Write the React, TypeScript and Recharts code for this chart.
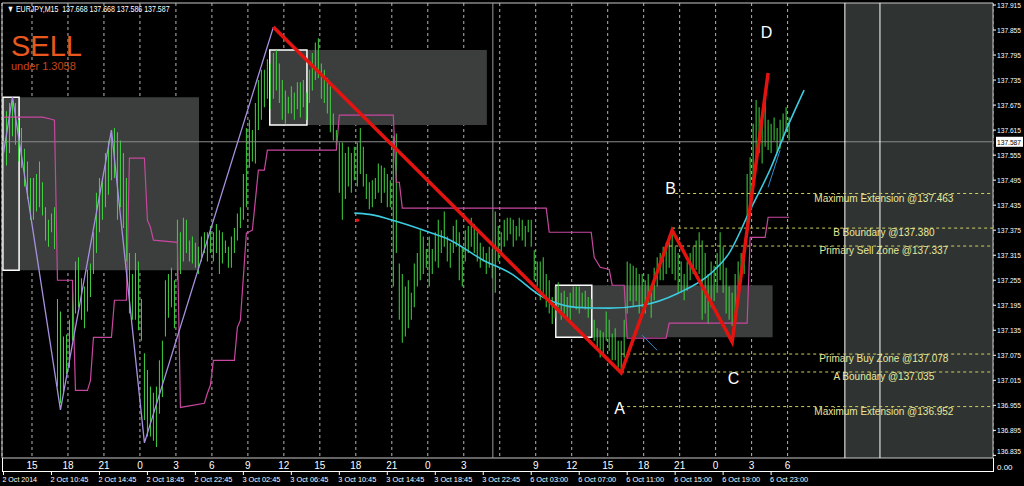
import React from 'react';
import {
  ComposedChart, Bar, Line, XAxis, YAxis, CartesianGrid,
  ReferenceArea, ReferenceLine, ReferenceDot,
} from 'recharts';

// EURJPY M15 bars (one per 15 min)
const highs = [
  137.585, 137.66, 137.68, 137.694, 137.68, 137.64, 137.62, 137.57, 137.54, 137.5,
  137.5, 137.51, 137.54, 137.49, 137.43, 137.4, 137.415, 137.43, 137.21, 137.18,
  137.12, 137.125, 137.16, 137.24, 137.3, 137.31, 137.26, 137.24, 137.28, 137.295,
  137.37, 137.465, 137.5, 137.495, 137.56, 137.59, 137.615, 137.62, 137.61, 137.59,
  137.56, 137.5, 137.32, 137.27, 137.32, 137.3, 137.21, 137.08, 137.04, 137.0,
  136.985, 137.0, 137.063, 137.11, 137.255, 137.27, 137.285, 137.255, 137.4, 137.37,
  137.405, 137.4, 137.35, 137.36, 137.345, 137.335, 137.36, 137.37, 137.37, 137.385,
  137.37, 137.39, 137.375, 137.37, 137.35, 137.335, 137.36, 137.38, 137.415, 137.43,
  137.51, 137.62, 137.64, 137.615, 137.68, 137.735, 137.76, 137.76, 137.785, 137.775,
  137.8, 137.807, 137.775, 137.735, 137.71, 137.695, 137.72, 137.705, 137.73, 137.73,
  137.735, 137.705, 137.76, 137.8, 137.825, 137.835, 137.775, 137.76, 137.74, 137.72,
  137.655, 137.615, 137.585, 137.585, 137.56, 137.575, 137.56, 137.575, 137.585, 137.62,
  137.575, 137.51, 137.49, 137.495, 137.5, 137.535, 137.53, 137.525, 137.51, 137.495,
  137.6, 137.607, 137.295, 137.27, 137.24, 137.255, 137.225, 137.295, 137.32, 137.375,
  137.36, 137.33, 137.36, 137.33, 137.37, 137.4, 137.375, 137.42, 137.36, 137.345,
  137.385, 137.4, 137.37, 137.335, 137.375, 137.385, 137.405, 137.39, 137.37, 137.345,
  137.335, 137.32, 137.335, 137.33, 137.42, 137.385, 137.37, 137.4, 137.405, 137.405,
  137.4, 137.385, 137.405, 137.4, 137.385, 137.4, 137.4, 137.327, 137.3, 137.3,
  137.31, 137.27, 137.255, 137.215, 137.24, 137.25, 137.225, 137.23, 137.215, 137.225,
  137.24, 137.24, 137.24, 137.225, 137.23, 137.215, 137.21, 137.16, 137.14, 137.135,
  137.13, 137.18, 137.16, 137.127, 137.14, 137.11, 137.11, 137.16, 137.3, 137.295,
  137.29, 137.285, 137.27, 137.27, 137.255, 137.27, 137.24, 137.285, 137.31, 137.32,
  137.335, 137.345, 137.36, 137.372, 137.335, 137.32, 137.3, 137.27, 137.3, 137.32,
  137.335, 137.35, 137.37, 137.35, 137.32, 137.27, 137.3, 137.29, 137.32, 137.37,
  137.335, 137.285, 137.24, 137.225, 137.27, 137.3, 137.32, 137.335, 137.51, 137.55,
  137.63, 137.687, 137.67, 137.645, 137.687, 137.64, 137.63, 137.645, 137.62, 137.64,
  137.655, 137.67, 137.645,
];
const lows = [
  137.47, 137.53, 137.56, 137.6, 137.58, 137.54, 137.525, 137.48, 137.45, 137.4,
  137.4, 137.42, 137.43, 137.41, 137.35, 137.335, 137.37, 137.33, 137.0, 136.96,
  136.985, 137.03, 137.045, 137.11, 137.175, 137.19, 137.16, 137.14, 137.18, 137.215,
  137.27, 137.32, 137.37, 137.4, 137.43, 137.46, 137.495, 137.5, 137.4, 137.43,
  137.38, 137.3, 137.175, 137.16, 137.16, 137.135, 137.11, 136.92, 136.88, 136.88,
  136.87, 136.855, 136.935, 136.975, 137.12, 137.165, 137.19, 137.14, 137.255, 137.27,
  137.3, 137.32, 137.3, 137.295, 137.285, 137.27, 137.3, 137.32, 137.3, 137.32,
  137.3, 137.32, 137.27, 137.295, 137.32, 137.285, 137.285, 137.32, 137.35, 137.38,
  137.4, 137.43, 137.525, 137.54, 137.535, 137.615, 137.64, 137.67, 137.69, 137.665,
  137.69, 137.71, 137.68, 137.64, 137.63, 137.655, 137.655, 137.64, 137.665, 137.645,
  137.67, 137.64, 137.68, 137.71, 137.735, 137.74, 137.69, 137.68, 137.655, 137.61,
  137.59, 137.575, 137.465, 137.4, 137.45, 137.48, 137.465, 137.495, 137.48, 137.51,
  137.48, 137.45, 137.425, 137.43, 137.45, 137.465, 137.44, 137.465, 137.43, 137.43,
  137.24, 137.32, 137.16, 137.105, 137.12, 137.14, 137.16, 137.19, 137.24, 137.255,
  137.27, 137.285, 137.24, 137.27, 137.3, 137.285, 137.32, 137.335, 137.3, 137.285,
  137.32, 137.335, 137.255, 137.24, 137.3, 137.32, 137.335, 137.32, 137.3, 137.285,
  137.3, 137.27, 137.285, 137.26, 137.225, 137.3, 137.32, 137.335, 137.35, 137.365,
  137.335, 137.35, 137.36, 137.35, 137.335, 137.37, 137.335, 137.255, 137.24, 137.207,
  137.225, 137.19, 137.175, 137.15, 137.165, 137.19, 137.16, 137.175, 137.165, 137.15,
  137.19, 137.185, 137.175, 137.19, 137.185, 137.165, 137.185, 137.11, 137.095, 137.07,
  137.075, 137.11, 137.085, 137.063, 137.063, 137.045, 137.035, 137.07, 137.175, 137.205,
  137.19, 137.205, 137.175, 137.19, 137.175, 137.2, 137.165, 137.207, 137.24, 137.255,
  137.255, 137.27, 137.285, 137.27, 137.255, 137.225, 137.225, 137.207, 137.23, 137.255,
  137.27, 137.28, 137.27, 137.16, 137.175, 137.15, 137.19, 137.205, 137.225, 137.255,
  137.225, 137.175, 137.16, 137.145, 137.175, 137.225, 137.255, 137.27, 137.385, 137.43,
  137.495, 137.545, 137.56, 137.535, 137.575, 137.567, 137.56, 137.59, 137.56, 137.57,
  137.59, 137.61, 137.59,
];

// zigzag / pattern points as [bar index, price]
const purpleWave: [number, number][] = [[0, 137.56], [3, 137.694], [19, 136.944], [36, 137.615], [47, 136.865], [90, 137.862]];
const abcdLegs: [number, number][] = [[90, 137.862], [206, 137.033], [223, 137.375], [243, 137.107], [255, 137.752]];
const stepLevels: [number, number][] = [
  [0, 137.646], [13, 137.646], [16, 137.641], [17, 137.639], [18, 137.255], [23, 137.255], [24, 136.991],
  [28, 136.991], [29, 137.015], [30, 137.118], [36, 137.118], [37, 137.207], [41, 137.207], [42, 137.548],
  [47, 137.548], [48, 137.399], [49, 137.382], [50, 137.351], [58, 137.346], [59, 136.95], [67, 136.96],
  [68, 136.984], [69, 137.003], [70, 137.063], [77, 137.063], [78, 137.142], [79, 137.159], [81, 137.368],
  [83, 137.375], [85, 137.519], [87, 137.519], [88, 137.567], [111, 137.567], [112, 137.651], [130, 137.651],
  [131, 137.49], [132, 137.49], [133, 137.428], [181, 137.428], [182, 137.37], [196, 137.37], [197, 137.31],
  [199, 137.286], [202, 137.281], [203, 137.243], [207, 137.243], [208, 137.116], [221, 137.116],
  [222, 137.152], [248, 137.152], [249, 137.358], [254, 137.358], [255, 137.406], [262, 137.406],
];
const trendCurve: [number, number][] = [
  [117, 137.416], [122, 137.413], [132, 137.394], [142, 137.37], [149, 137.351], [160, 137.303],
  [169, 137.272], [180, 137.214], [191, 137.19], [202, 137.188], [213, 137.195], [225, 137.224],
  [236, 137.272], [242, 137.32], [249, 137.423], [256, 137.526], [261, 137.615], [267, 137.711],
];
const fanTickA: [number, number][] = [[213, 137.123], [218, 137.087]];
const fanTickB: [number, number][] = [[255, 137.478], [259, 137.567]];
const markDot: [number, number][] = [[118, 137.399]];

// rectangles: bar index from/to, price low/high
const zones = [
  { from: -0.2, to: 65.2, low: 137.279, high: 137.694 },
  { from: 88.8, to: 161.2, low: 137.627, high: 137.807 },
  { from: 184.5, to: 256.5, low: 137.118, high: 137.243 },
];
const boxes = [
  { from: -0.2, to: 5.2, low: 137.279, high: 137.694 },
  { from: 88.8, to: 101.2, low: 137.627, high: 137.807 },
  { from: 184.2, to: 196.2, low: 137.118, high: 137.243 },
];

const levels = [
  { from: 224, price: 137.463, label: 'Maximum Extension @137.463' },
  { from: 223, price: 137.38, label: 'B Boundary @137.380' },
  { from: 222, price: 137.337, label: 'Primary Sell Zone @137.337' },
  { from: 206, price: 137.078, label: 'Primary Buy Zone @137.078' },
  { from: 206, price: 137.035, label: 'A Boundary @137.035' },
  { from: 206, price: 136.952, label: 'Maximum Extension @136.952' },
];
const pointLabels = [
  { name: 'D', at: 254.5, price: 137.85 },
  { name: 'B', at: 222.5, price: 137.476 },
  { name: 'A', at: 205.5, price: 136.948 },
  { name: 'C', at: 243.5, price: 137.02 },
];

const lastPrice = 137.587;
const priceTicks = [
  136.835, 136.895, 136.955, 137.015, 137.075, 137.135, 137.195, 137.255, 137.315, 137.375,
  137.435, 137.495, 137.555, 137.615, 137.675, 137.735, 137.795, 137.855, 137.915,
];
const hourTicks = [9.5, 21.5, 33.5, 45.5, 57.5, 69.5, 81.5, 93.5, 105.5, 117.5, 129.5, 141.5, 153.5, 165.5, 177.5, 189.5, 201.5, 213.5, 225.5, 237.5, 249.5, 261.5];
const hourLabels = ['15', '18', '21', '0', '3', '6', '9', '12', '15', '18', '21', '0', '3', '', '9', '12', '15', '18', '21', '0', '3', '6'];
const dateTicks = [0, 16, 32, 48, 64, 80, 96, 112, 128, 144, 160, 176, 192, 208, 224, 240, 256];
const dateLabels = [
  '2 Oct 2014', '2 Oct 10:45', '2 Oct 14:45', '2 Oct 18:45', '2 Oct 22:45', '3 Oct 02:45',
  '3 Oct 06:45', '3 Oct 10:45', '3 Oct 14:45', '3 Oct 18:45', '3 Oct 22:45', '6 Oct 03:00',
  '6 Oct 07:00', '6 Oct 11:00', '6 Oct 15:00', '6 Oct 19:00', '6 Oct 23:00',
];

const X_DOMAIN: [number, number] = [-0.5, 330];
const Y_DOMAIN: [number, number] = [136.8287, 137.9198];
const SANS = "'Liberation Sans', Arial, sans-serif";

const rows: any[] = [];
for (let i = 0; i <= 267; i++) {
  rows.push({ i, range: i < highs.length ? [lows[i], highs[i]] : undefined });
}
const put = (pts: [number, number][], key: string) => pts.forEach(([i, v]) => { rows[i][key] = v; });
put(purpleWave, 'wave');
put(abcdLegs, 'abcd');
put(stepLevels, 'step');
put(trendCurve, 'curve');
put(fanTickA, 'fanA');
put(fanTickB, 'fanB');
put(markDot, 'mark');

// MT4 uses a narrow pixel font: squeeze the text to its width
function PriceTick({ x, y, payload }: any) {
  const v = payload.value;
  if (v === lastPrice) {
    return (
      <g>
        <rect x={x - 1} y={y - 5} width={27} height={10} fill="#fff" />
        <text x={x} y={y + 3} fontSize={8} fill="#000" fontFamily={SANS} textLength={24} lengthAdjust="spacingAndGlyphs">{v.toFixed(3)}</text>
      </g>
    );
  }
  const shift = v === priceTicks[0] ? -4 : 0;
  return (
    <g>
      <line x1={x - 4} x2={x - 1} y1={y} y2={y} stroke="#fff" />
      <text x={x} y={y + 3 + shift} fontSize={8} fill="#fff" fontFamily={SANS} textLength={24} lengthAdjust="spacingAndGlyphs">{v.toFixed(3)}</text>
    </g>
  );
}

function HourTick({ x, y, payload }: any) {
  const label = hourLabels[hourTicks.indexOf(payload.value)];
  if (!label) return <g />;
  return (
    <text x={x} y={y + 8} fontSize={10} fill="#fff" fontFamily={SANS} textAnchor="middle">{label}</text>
  );
}

function DateTick({ x, y, payload }: any) {
  const label = dateLabels[dateTicks.indexOf(payload.value)];
  return (
    <g>
      <line x1={x} x2={x} y1={y - 3} y2={y} stroke="#fff" />
      <text x={x - 1} y={y + 7} fontSize={8} fill="#fff" fontFamily={SANS} textLength={label.length * 3.45} lengthAdjust="spacingAndGlyphs">{label}</text>
    </g>
  );
}

export default function App() {
  return (
    <div style={{ position: 'fixed', left: 0, top: 0, width: 1024, height: 486, background: '#000', overflow: 'hidden' }}>
      <ComposedChart width={1024} height={486} data={rows} margin={{ top: 3, right: 0, bottom: 0, left: 2 }}>
        <XAxis
          dataKey="i" type="number" domain={X_DOMAIN} allowDataOverflow ticks={hourTicks} interval={0}
          height={14} axisLine={false} tickLine={false} tickSize={3} tickMargin={0} tick={<HourTick />}
        />
        <XAxis
          xAxisId="d" dataKey="i" type="number" domain={X_DOMAIN} allowDataOverflow ticks={dateTicks} interval={0}
          height={14} axisLine={false} tickLine={false} tickSize={3} tickMargin={0} tick={<DateTick />}
        />
        <YAxis
          orientation="right" type="number" domain={Y_DOMAIN} allowDataOverflow width={31}
          ticks={[...priceTicks, lastPrice]} interval={0} axisLine={false} tickLine={false}
          tickSize={3} tickMargin={1} tick={<PriceTick />}
        />
        <ReferenceArea x1={280.6} x2={330} y1={Y_DOMAIN[0]} y2={Y_DOMAIN[1]} fill="#2f3432" fillOpacity={1} stroke="none" />
        {zones.map((z, k) => (
          <ReferenceArea key={'z' + k} x1={z.from} x2={z.to} y1={z.low} y2={z.high} fill="#3b3e3d" fillOpacity={1} stroke="none" />
        ))}
        <CartesianGrid horizontal={false} stroke="#b4b4b4" strokeDasharray="3 3" />
        <ReferenceLine y={lastPrice} stroke="#8c8c8c" />
        <ReferenceLine x={163.2} stroke="#9a9a9a" />
        <ReferenceLine x={280.6} stroke="#ffffff" />
        <ReferenceLine x={292.3} stroke="#ffffff" />
        {boxes.map((b, k) => (
          <ReferenceArea key={'b' + k} x1={b.from} x2={b.to} y1={b.low} y2={b.high} fill="none" stroke="#ffffff" strokeWidth={1.5} />
        ))}
        {levels.map((l, k) => (
          <ReferenceLine
            key={'l' + k}
            segment={[{ x: l.from, y: l.price }, { x: 330, y: l.price }]}
            stroke="#cfcf62" strokeDasharray="3 3"
          />
        ))}
        <Bar dataKey="range" barSize={1} fill="#3fd43f" isAnimationActive={false} />
        <Line dataKey="step" type="linear" stroke="#c8479e" strokeWidth={1.2} dot={false} connectNulls isAnimationActive={false} />
        <Line dataKey="wave" type="linear" stroke="#a890e0" strokeWidth={1.3} dot={false} connectNulls isAnimationActive={false} />
        <Line dataKey="curve" type="monotone" stroke="#3ccbe0" strokeWidth={1.6} dot={false} connectNulls isAnimationActive={false} />
        <Line dataKey="fanA" type="linear" stroke="#2f8fd0" strokeWidth={1} dot={false} connectNulls isAnimationActive={false} />
        <Line dataKey="fanB" type="linear" stroke="#2f8fd0" strokeWidth={1} dot={false} connectNulls isAnimationActive={false} />
        <Line dataKey="abcd" type="linear" stroke="#e3140f" strokeWidth={3.5} dot={false} connectNulls isAnimationActive={false} />
        <Line dataKey="mark" type="linear" stroke="none" dot={{ r: 1.8, fill: '#e3140f', stroke: 'none' }} isAnimationActive={false} />
        {levels.map((l, k) => (
          <ReferenceDot
            key={'t' + k} x={293.6} y={l.price} r={0} stroke="none" fill="none"
            label={{ value: l.label, position: 'bottom', offset: 1, fill: '#e8e89c', fontSize: 10, fontFamily: SANS }}
          />
        ))}
        {pointLabels.map((p) => (
          <ReferenceDot
            key={p.name} x={p.at} y={p.price} r={0} stroke="none" fill="none"
            label={{ value: p.name, position: 'center', fill: '#ffffff', fontSize: 16, fontFamily: SANS }}
          />
        ))}
        <ReferenceArea x1={X_DOMAIN[0]} x2={X_DOMAIN[1]} y1={Y_DOMAIN[0]} y2={Y_DOMAIN[1]} fill="none" stroke="#c8c8c8" />
      </ComposedChart>

      <div style={{ position: 'absolute', left: 2, top: 458, width: 990, height: 13, border: '1px solid #fff', borderTop: 'none', pointerEvents: 'none' }} />
      <div style={{ position: 'absolute', left: 997, top: 463, color: '#fff', fontSize: 8, fontFamily: SANS }}>0.00</div>
      <div style={{ position: 'absolute', left: 7, top: 4, color: '#fff', fontSize: 9, fontFamily: SANS, whiteSpace: 'pre', transform: 'scaleX(0.78)', transformOrigin: 'left top' }}>
        {'▼ EURJPY,M15  137.668 137.668 137.586 137.587'}
      </div>
      <div style={{ position: 'absolute', left: 11, top: 32, color: '#e8581e', fontSize: 29, fontFamily: SANS, lineHeight: '28px' }}>SELL</div>
      <div style={{ position: 'absolute', left: 11, top: 61, color: '#c8461a', fontSize: 11, fontFamily: SANS, lineHeight: '11px' }}>under 1.3058</div>
    </div>
  );
}
